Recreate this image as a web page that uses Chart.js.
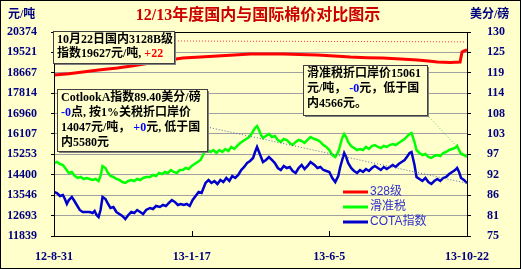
<!DOCTYPE html>
<html><head><meta charset="utf-8">
<script src="https://cdn.jsdelivr.net/npm/chart.js@4/dist/chart.umd.min.js"></script>
<style>html,body{margin:0;padding:0;background:#FFFFCC;}canvas{display:block}</style>
</head><body>
<canvas id="c" width="521" height="269" style="width:521px;height:269px"></canvas>
<script>
// ---- data ----
const xTickDays = [0, 139, 278, 417];
const xTickLabels = ['12-8-31', '13-1-17', '13-6-5', '13-10-22'];
const leftTicks = [20374, 19521, 18667, 17814, 16960, 16107, 15253, 14400, 13546, 12693, 11839];
const rightTicks = [130, 125, 119, 114, 108, 103, 97, 92, 86, 81, 75];

// 328级 (元/吨)
const days328 = [0, 15, 29, 45, 64, 80, 97, 113, 130, 148, 165, 182, 198, 215, 231, 248, 266, 283, 299, 316, 332, 350, 367, 378, 387, 400, 410, 412, 414, 417];
const vals328 = [18575, 18630, 18701, 18780, 18868, 18960, 19077, 19180, 19287, 19330, 19370, 19412, 19454, 19454, 19454, 19433, 19412, 19370, 19328, 19300, 19287, 19245, 19203, 19160, 19119, 19100, 19119, 19537, 19580, 19627];

// 滑准税 (元/吨)
const daysSlide = [0, 3, 6, 9, 12, 15, 18, 21, 24, 27, 30, 33, 36, 39, 42, 45, 47, 49, 52, 54, 57, 60, 63, 66, 69, 72, 75, 78, 81, 84, 87, 90, 93, 97, 100, 103, 106, 109, 112, 115, 118, 121, 124, 127, 130, 133, 136, 139, 142, 145, 148, 152, 155, 158, 161, 164, 167, 170, 173, 176, 179, 182, 185, 188, 191, 194, 197, 200, 203, 205, 207, 209, 211, 214, 217, 220, 223, 226, 229, 232, 235, 238, 241, 244, 247, 250, 253, 256, 259, 263, 266, 269, 272, 275, 278, 281, 284, 287, 289, 291, 293, 295, 297, 300, 303, 306, 309, 312, 315, 318, 321, 324, 327, 330, 333, 336, 339, 342, 345, 348, 351, 354, 357, 359, 361, 364, 366, 369, 372, 375, 378, 381, 384, 387, 390, 393, 396, 399, 402, 405, 407, 409, 411, 414, 417];
const valsSlide = [14893, 14935, 14851, 14810, 14642, 14475, 14517, 14349, 14266, 14308, 14224, 14266, 14224, 14182, 14224, 14140, 14349, 14768, 14684, 14517, 14349, 14308, 14224, 14182, 14098, 14057, 14140, 14182, 14140, 14224, 14182, 14266, 14308, 14308, 14391, 14349, 14475, 14433, 14517, 14475, 14600, 14517, 14475, 14600, 14600, 14684, 14642, 14768, 14851, 14935, 15019, 15354, 15437, 15354, 15437, 15312, 15437, 15354, 15479, 15395, 15563, 15479, 15605, 15730, 15814, 15897, 15981, 16149, 16358, 16441, 16274, 16065, 15939, 16023, 16107, 15981, 16023, 15856, 15772, 15897, 15856, 15730, 15646, 15772, 15856, 15814, 15730, 15856, 15981, 15897, 15856, 15772, 15646, 15563, 15437, 15228, 15144, 15354, 15646, 15939, 16107, 15981, 15772, 15605, 15521, 15437, 15479, 15437, 15563, 15479, 15605, 15646, 15563, 15521, 15605, 15563, 15646, 15688, 15646, 15730, 15814, 15897, 16023, 16107, 16149, 15772, 15437, 15312, 15228, 15270, 15144, 15103, 15186, 15228, 15186, 15312, 15354, 15437, 15479, 15521, 15605, 15437, 15270, 15228, 15144];

// COTA指数 (按1%关税折口岸价, 元/吨)
const daysCota = [0, 3, 6, 9, 11, 13, 15, 18, 20, 23, 26, 29, 33, 36, 39, 41, 43, 45, 47, 49, 52, 54, 57, 60, 63, 66, 69, 72, 75, 78, 81, 84, 87, 90, 93, 97, 100, 103, 107, 110, 113, 116, 119, 122, 125, 128, 131, 134, 137, 140, 143, 146, 149, 153, 156, 159, 162, 165, 168, 171, 174, 177, 180, 183, 186, 189, 192, 195, 198, 201, 203, 205, 207, 209, 211, 214, 217, 220, 223, 226, 229, 232, 235, 238, 241, 244, 247, 250, 253, 256, 259, 263, 266, 269, 272, 275, 278, 281, 284, 287, 289, 291, 293, 295, 297, 300, 303, 306, 309, 312, 315, 318, 321, 324, 327, 330, 333, 336, 339, 342, 345, 348, 351, 354, 357, 359, 361, 364, 366, 369, 372, 375, 378, 381, 384, 387, 390, 393, 396, 399, 402, 405, 407, 409, 411, 414, 417];
const valsCota = [13680, 13638, 13513, 13554, 13387, 13178, 13345, 13471, 13345, 13136, 12927, 12843, 12843, 12843, 12801, 12885, 12718, 12634, 12927, 13471, 13387, 13220, 13011, 13052, 12843, 12759, 12676, 12550, 12718, 12843, 12801, 12927, 12843, 12759, 12927, 13011, 12969, 13094, 13052, 13136, 13094, 13220, 13345, 13262, 13136, 13178, 13136, 13178, 13094, 13345, 13513, 13680, 13638, 14057, 14182, 14057, 14140, 14015, 14182, 14098, 14266, 14140, 14349, 14266, 14391, 14600, 14726, 14893, 14977, 15103, 15354, 15563, 15354, 15144, 14935, 15019, 15144, 15019, 14893, 14684, 14600, 14768, 14684, 14726, 14559, 14475, 14684, 14810, 14642, 14768, 14935, 14810, 14684, 14726, 14600, 14559, 14517, 14266, 14098, 14349, 14726, 15019, 15312, 15144, 14893, 14684, 14559, 14475, 14600, 14517, 14642, 14559, 14684, 14768, 14684, 14600, 14726, 14642, 14726, 14810, 14726, 14851, 14935, 15019, 15186, 15312, 15354, 14810, 14308, 14224, 14140, 14266, 14098, 14015, 14140, 14224, 14140, 14266, 14308, 14433, 14517, 14600, 14684, 14517, 14266, 14182, 14047];

const seriesNames = ['328级', '滑准税', 'COTA指数'];
const seriesColors = ['#FF0000', '#00FF00', '#0000CC'];

const title = '12/13年度国内与国际棉价对比图示';
const leftUnit = '元/吨';
const rightUnit = '美分/磅';
const note1 = [[['10月22日国内3128B级', '#000']], [['指数19627元/吨, ', '#000'], ['+22', '#FF0000']]];
const note2 = [[['CotlookA指数89.40美分/磅', '#000']], [['-0', '#0000FF'], ['点, 按1%关税折口岸价', '#000']], [['14047元/吨， ', '#000'], ['+0', '#0000FF'], ['元, 低于国', '#000']], [['内5580元', '#000']]];
const note3 = [[['滑准税折口岸价15061', '#000']], [['元/吨， ', '#000'], ['-0', '#0000FF'], ['元，低于国', '#000']], [['内4566元。', '#000']]];

// ---- chart ----
const zip = (xs, ys) => xs.map((x, i) => ({x: x, y: ys[i]}));
const NAVY = '#000080';
const tickFont = {family: "'Liberation Serif', 'Noto Sans CJK SC'", size: 12, weight: 'bold'};
const F = "'Liberation Serif','Noto Sans CJK SC',serif";

function drawBox(ctx, x, y, w, h, lines, lh) {
  ctx.save();
  ctx.fillStyle = '#808080';
  ctx.fillRect(x + 2, y + 2, w, h);
  ctx.fillStyle = '#FFFFCC';
  ctx.fillRect(x, y, w, h);
  ctx.strokeStyle = '#404040';
  ctx.lineWidth = 1;
  ctx.strokeRect(x + 0.5, y + 0.5, w, h);
  ctx.font = 'bold 12px ' + F;
  ctx.textBaseline = 'middle';
  lines.forEach((segs, i) => {
    let cx = x + 4;
    const cy = y + 9 + i * lh;
    segs.forEach(([t, c]) => {
      ctx.fillStyle = c;
      ctx.fillText(t, cx, cy);
      cx += ctx.measureText(t).width;
    });
  });
  ctx.restore();
}

const deco = {
  id: 'deco',
  beforeDraw(chart) {
    const ctx = chart.ctx;
    ctx.save();
    ctx.fillStyle = '#FFFFCC';
    ctx.fillRect(0, 0, chart.width, chart.height);
    ctx.restore();
  },
  afterDraw(chart) {
    const ctx = chart.ctx;
    const a = chart.chartArea;
    const xs = chart.scales.x, ys = chart.scales.y;
    ctx.save();
    ctx.strokeStyle = '#000';
    ctx.lineWidth = 1;
    ctx.strokeRect(Math.round(a.left) + 0.5, Math.round(a.top) + 0.5, Math.round(a.right - a.left), Math.round(a.bottom - a.top));
    xTickDays.slice(1, -1).forEach(d => {
      const px = Math.round(xs.getPixelForValue(d)) + 0.5;
      ctx.beginPath(); ctx.moveTo(px, a.bottom); ctx.lineTo(px, a.bottom - 5); ctx.stroke();
    });
    ctx.strokeRect(0.5, 0.5, chart.width - 1, chart.height - 1);
    ctx.fillStyle = '#CC0000';
    ctx.font = 'bold 16px ' + F;
    ctx.textAlign = 'center';
    ctx.textBaseline = 'middle';
    ctx.fillText(title, 258, 16);
    ctx.fillStyle = NAVY;
    ctx.font = 'bold 12px ' + F;
    ctx.textAlign = 'left';
    ctx.fillText(leftUnit, 8, 15);
    ctx.fillText(rightUnit, 470, 15);

    const endOf = (dsIdx) => {
      const d = chart.data.datasets[dsIdx].data;
      const p = d[d.length - 1];
      return [xs.getPixelForValue(p.x), ys.getPixelForValue(p.y)];
    };
    ctx.lineWidth = 1;
    ctx.setLineDash([1, 2]);
    const r = endOf(0);
    ctx.strokeStyle = '#FF3333';
    ctx.beginPath(); ctx.moveTo(175, 41); ctx.lineTo(r[0] - 3, r[1] - 8); ctx.stroke();
    const b = endOf(2);
    ctx.strokeStyle = '#5566AA';
    ctx.beginPath(); ctx.moveTo(207, 127); ctx.lineTo(b[0], b[1]); ctx.stroke();
    const g = endOf(1);
    ctx.strokeStyle = '#66CC66';
    ctx.beginPath(); ctx.moveTo(427, 115); ctx.lineTo(g[0], g[1]); ctx.stroke();
    ctx.setLineDash([]);

    drawBox(ctx, 53, 31, 121, 32, note1, 14);
    drawBox(ctx, 57, 89, 150, 62, note2, 15);
    drawBox(ctx, 303, 65, 124, 50, note3, 15);

    ctx.font = '12px ' + "'Liberation Sans','Noto Sans CJK SC',sans-serif";
    ctx.textBaseline = 'middle';
    seriesNames.forEach((n, i) => {
      const ly = 192 + i * 15;
      ctx.strokeStyle = seriesColors[i];
      ctx.lineWidth = 3;
      ctx.beginPath(); ctx.moveTo(343, ly); ctx.lineTo(368, ly); ctx.stroke();
      ctx.fillStyle = '#3333CC';
      ctx.fillText(n, 370, ly);
    });
    ctx.restore();
  }
};

new Chart(document.getElementById('c'), {
  type: 'line',
  data: {
    datasets: [
      {label: seriesNames[0], data: zip(days328, vals328), borderColor: seriesColors[0], borderWidth: 3, pointRadius: 0, tension: 0, yAxisID: 'y'},
      {label: seriesNames[1], data: zip(daysSlide, valsSlide), borderColor: seriesColors[1], borderWidth: 2.5, pointRadius: 0, tension: 0, yAxisID: 'y'},
      {label: seriesNames[2], data: zip(daysCota, valsCota), borderColor: seriesColors[2], borderWidth: 2.5, pointRadius: 0, tension: 0, yAxisID: 'y'}
    ]
  },
  options: {
    responsive: false,
    animation: false,
    devicePixelRatio: 1,
    layout: {padding: {top: 32, left: 0, right: 0, bottom: 0}},
    plugins: {legend: {display: false}, tooltip: {enabled: false}, title: {display: false}},
    scales: {
      x: {
        type: 'linear', min: 0, max: 417,
        afterBuildTicks: s => { s.ticks = xTickDays.map(v => ({value: v})); },
        afterFit: s => { s.height = 33; },
        ticks: {callback: (v) => xTickLabels[xTickDays.indexOf(v)], color: NAVY, font: tickFont, maxRotation: 0, autoSkip: false, padding: 6},
        grid: {display: false},
        border: {display: false}
      },
      y: {
        position: 'left', min: 11839, max: 20374,
        afterBuildTicks: s => { s.ticks = leftTicks.map(v => ({value: v})); },
        afterFit: s => { s.width = 54; },
        ticks: {callback: v => String(v), color: NAVY, font: tickFont, padding: 14},
        grid: {color: '#A0A0A0', borderDash: [4, 3], tickColor: '#000', tickLength: 3, tickBorderDash: []},
        border: {display: false}
      },
      y2: {
        position: 'right', min: 75, max: 130,
        afterBuildTicks: s => { s.ticks = rightTicks.map((v, i) => ({value: 130 - 5.5 * i})); },
        afterFit: s => { s.width = 54; },
        ticks: {callback: (v, i) => String(rightTicks[i]), color: NAVY, font: tickFont, padding: 16},
        grid: {drawOnChartArea: false, tickColor: '#000', tickLength: 4},
        border: {display: false}
      }
    }
  },
  plugins: [deco]
});
</script>
</body></html>
